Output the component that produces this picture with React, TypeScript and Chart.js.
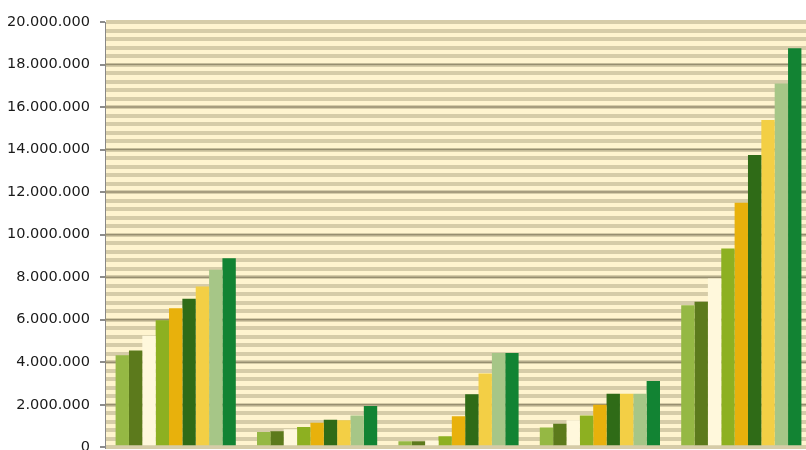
import React, { useEffect, useRef } from "react";
import { Chart, registerables } from "chart.js";

Chart.register(...registerables);

const categories = ["A", "B", "C", "D", "E"];
const seriesNames = ["S1", "S2", "S3", "S4", "S5", "S6", "S7", "S8", "S9"];
const seriesColors = [
  "#95B844", "#5C7A1C", "#FFF8DC", "#8DB021", "#E8B10C",
  "#2F6B17", "#F3CF45", "#A6C687", "#128333",
];
// values per series across the 5 categories
const s1 = [4330000, 720000, 280000, 930000, 6680000];
const s2 = [4550000, 750000, 280000, 1110000, 6840000];
const s3 = [5250000, 850000, 320000, 1270000, 7940000];
const s4 = [5980000, 960000, 520000, 1500000, 9350000];
const s5 = [6540000, 1150000, 1460000, 2000000, 11500000];
const s6 = [6980000, 1300000, 2490000, 2520000, 13740000];
const s7 = [7560000, 1270000, 3470000, 2520000, 15390000];
const s8 = [8350000, 1500000, 4440000, 2520000, 17110000];
const s9 = [8890000, 1940000, 4440000, 3120000, 18760000];
const seriesValues = [s1, s2, s3, s4, s5, s6, s7, s8, s9];

const yMin = 0;
const yMax = 20000000;
const yMinorStep = 400000;
const yMajorStep = 2000000;

const fmt = (v: number) => String(Math.round(v)).replace(/\B(?=(\d{3})+(?!\d))/g, ".");
const isMajor = (v: number) => Math.abs(v % yMajorStep) < 1;

const bgPlugin = {
  id: "plotBg",
  beforeDraw(chart: any) {
    const { ctx, chartArea } = chart;
    if (!chartArea) return;
    ctx.save();
    ctx.fillStyle = "#FFF4CF";
    ctx.fillRect(chartArea.left, chartArea.top, chartArea.right - chartArea.left, chartArea.bottom - chartArea.top);
    ctx.restore();
  },
  beforeDatasetsDraw(chart: any) {
    const { ctx, chartArea } = chart;
    const ys = chart.scales.y;
    ctx.save();
    ctx.strokeStyle = "#978e70";
    ctx.lineWidth = 1.5;
    for (let v = yMin + yMajorStep; v < yMax; v += yMajorStep) {
      const p = ys.getPixelForValue(v);
      ctx.beginPath();
      ctx.moveTo(chartArea.left, p);
      ctx.lineTo(chartArea.right, p);
      ctx.stroke();
    }
    ctx.restore();
  },
};

export default function App() {
  const ref = useRef<HTMLCanvasElement | null>(null);
  useEffect(() => {
    if (!ref.current) return;
    const chart = new Chart(ref.current, {
      type: "bar",
      data: {
        labels: categories,
        datasets: seriesNames.map((n, i) => ({
          label: n,
          data: seriesValues[i],
          backgroundColor: seriesColors[i],
          borderWidth: 0,
          barPercentage: 1,
          categoryPercentage: 0.85,
        })),
      },
      options: {
        responsive: false,
        animation: false,
        layout: { padding: { top: 22, bottom: 0, left: 0, right: 0 } },
        plugins: { legend: { display: false }, tooltip: { enabled: false } },
        scales: {
          x: { display: false },
          y: {
            min: yMin,
            max: yMax,
            afterFit: (s: any) => { s.width = 105; },
            ticks: {
              stepSize: yMinorStep,
              maxTicksLimit: 100,
              autoSkip: false,
              padding: 10,
              color: "#1a1a1a",
              font: { family: "DejaVu Sans", size: 14.5 },
              callback: (v: any) => (isMajor(Number(v)) ? fmt(Number(v)) : ""),
            },
            grid: {
              color: "#d6cca8",
              lineWidth: 4,
              tickColor: (c: any) => (isMajor(c.tick?.value ?? 0) ? "#666" : "rgba(0,0,0,0)"),
              tickWidth: 1.5,
              tickLength: 5,
            },
            border: { color: "#888", width: 1 },
          },
        },
      },
      plugins: [bgPlugin],
    });
    return () => chart.destroy();
  }, []);
  return (
    <div style={{ position: "absolute", left: 0, top: 0, width: 806, height: 450, overflow: "hidden", background: "#fff" }}>
      <canvas ref={ref} width={812} height={466} style={{ display: "block" }} />
    </div>
  );
}
